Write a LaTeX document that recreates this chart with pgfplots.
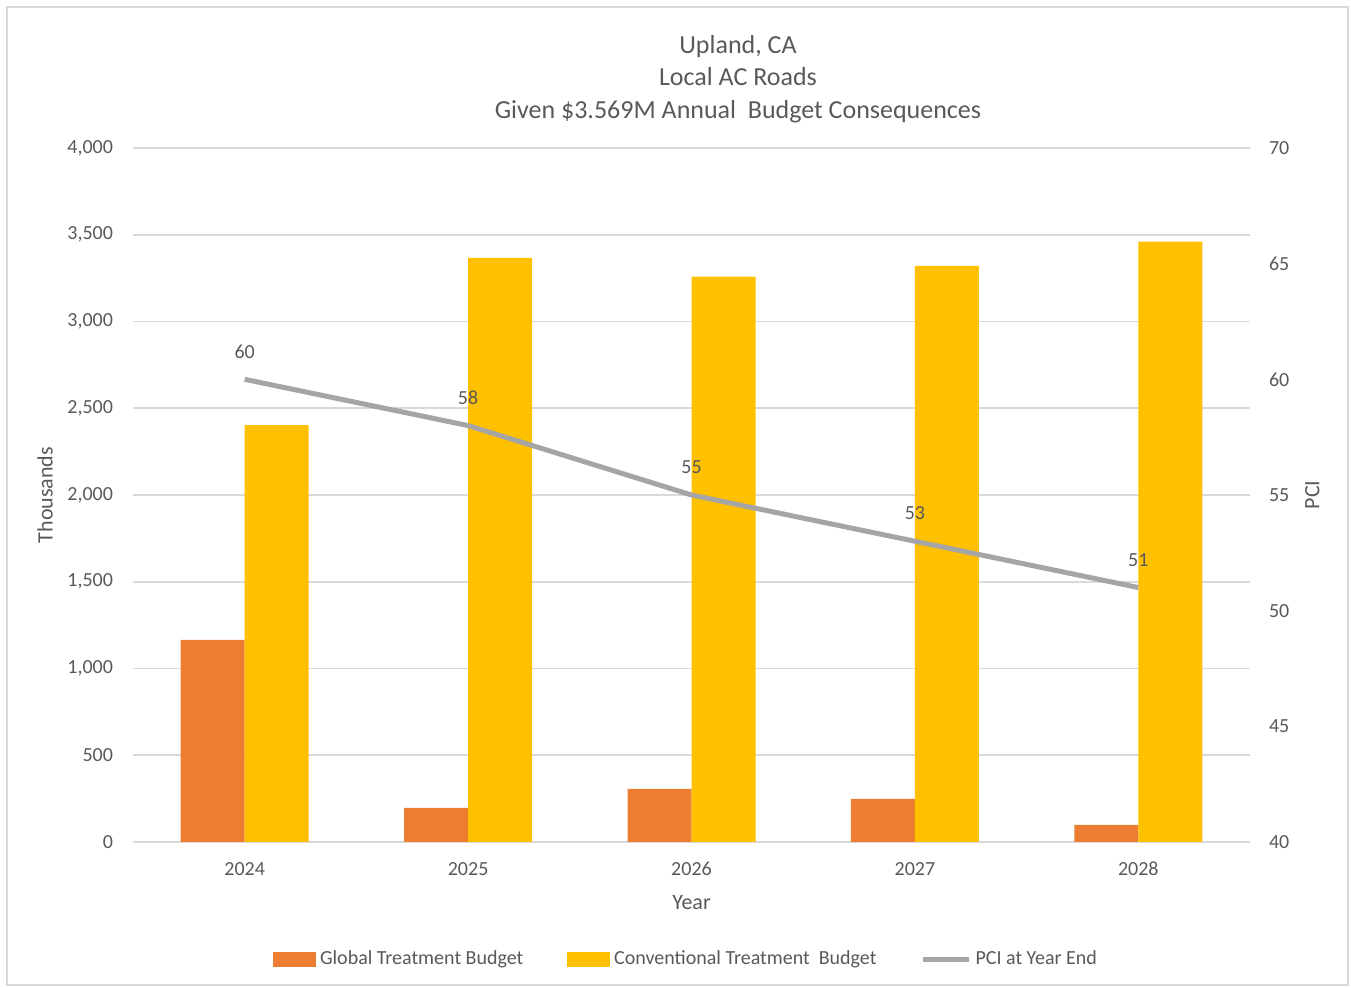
\documentclass[border=0pt]{standalone}
\usepackage{pgfplots}
\pgfplotsset{compat=1.18}
\usepackage{fontspec}
\setmainfont{Carlito}
\definecolor{cOrange}{HTML}{ED7D31}
\definecolor{cYellow}{HTML}{FFC000}
\definecolor{cGray}{HTML}{A5A5A5}
\definecolor{cGrid}{HTML}{D9D9D9}
\definecolor{cText}{HTML}{595959}
\begin{document}
\begin{tikzpicture}
\pgfplotsset{
  base/.style={
    scale only axis, width=558.5pt, height=347pt,
    xmin=-0.5, xmax=4.5,
    /pgf/number format/assume math mode=true,
    tick style={draw=none},
    tick label style={font=\fontsize{10}{12}\selectfont, text=cText},
    label style={font=\fontsize{11}{13}\selectfont, text=cText},
  }
}
\begin{axis}[base,
  name=main,
  ymin=0, ymax=4000, ytick={0,500,...,4000},
  ymajorgrids, grid style={cGrid, line width=0.8pt},
  axis x line*=bottom, axis y line*=left,
  axis line style={draw=cGrid, line width=0.8pt},
  y axis line style={draw=none},
  xtick={0,1,2,3,4}, xticklabels={2024,2025,2026,2027,2028},
  xticklabel style={yshift=-6.5pt},
  /pgf/number format/1000 sep={,},
  yticklabel style={xshift=-6.5pt},
  xlabel={Year}, xlabel style={yshift=-3pt},
  ylabel={Thousands}, ylabel style={yshift=0.5pt},
  clip=false,
]
\addplot[ybar, bar width=32pt, bar shift=-16pt, fill=cOrange, draw=none]
  coordinates {(0,1165) (1,197) (2,306) (3,248) (4,98)};
\addplot[ybar, bar width=32pt, bar shift=16pt, fill=cYellow, draw=none]
  coordinates {(0,2403) (1,3366) (2,3258) (3,3320) (4,3460)};
\coordinate (ll) at (rel axis cs:0,0);
\coordinate (ur) at (rel axis cs:1,1);
\coordinate (tt) at (rel axis cs:0.5416,1);
\end{axis}
\begin{axis}[base,
  ymin=40, ymax=70, ytick={40,45,...,70},
  axis x line=none, axis y line*=right,
  y axis line style={draw=none},
  yticklabel style={xshift=6pt},
  ylabel={PCI}, ylabel style={yshift=-1pt},
  clip=false,
  legend columns=3,
  legend style={at={(rel axis cs:0.496,-0.1686)}, anchor=center, draw=none,
    font=\fontsize{10}{12}\selectfont, text=cText,
    /tikz/every even column/.append style={column sep=20pt}},
  legend cell align=left,
]
\addlegendimage{legend image code/.code={\fill[cOrange] (0pt,-3.5pt) rectangle (21pt,3.5pt);}}
\addlegendentry{Global Treatment Budget}
\addlegendimage{legend image code/.code={\fill[cYellow] (0pt,-3.5pt) rectangle (21pt,3.5pt);}}
\addlegendentry{Conventional Treatment\ \ Budget}
\addplot[cGray, line width=2.5pt,
  nodes near coords, point meta=explicit symbolic,
  every node near coord/.append style={font=\fontsize{10}{12}\selectfont, text=cText, yshift=6pt},
  legend image code/.code={\draw[cGray, line width=2.5pt] (-2pt,0pt) -- (21pt,0pt);}]
  coordinates {(0,60) [60] (1,58) [58] (2,55) [55] (3,53) [53] (4,51) [51]};
\addlegendentry{PCI at Year End}
\end{axis}
\node[align=center, font=\fontsize{13}{16.3}\selectfont, text=cText, anchor=center]
  at ([yshift=34.5pt]tt) {Upland, CA\\Local AC Roads\\Given \$3.569M Annual\ \ Budget Consequences};
\draw[cGrid, line width=0.8pt] ([xshift=-63pt,yshift=-71.5pt]ll) rectangle ([xshift=49pt,yshift=70.5pt]ur);
\useasboundingbox ([xshift=-66.5pt,yshift=-72.5pt]ll) rectangle ([xshift=50.5pt,yshift=74pt]ur);
\end{tikzpicture}
\end{document}
